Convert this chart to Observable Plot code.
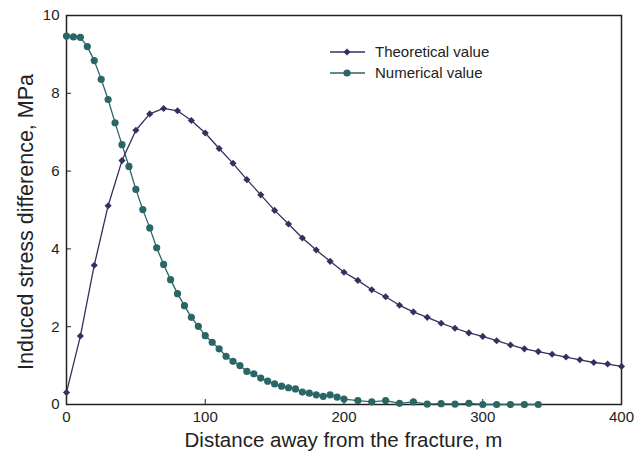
<!DOCTYPE html>
<html>
<head>
<meta charset="utf-8">
<script src="https://cdn.jsdelivr.net/npm/d3@7"></script>
<script src="https://cdn.jsdelivr.net/npm/@observablehq/plot@0.6"></script>
<style>
  html, body { margin: 0; padding: 0; background: #fff; }
  #chart { width: 644px; height: 458px; }
  svg { font-family: "Liberation Sans", Arial, sans-serif; }
</style>
</head>
<body>
<div id="chart"></div>
<script>
const theoX = [0,10,20,30,40,50,60,70,80,90,100,110,120,130,140,150,160,170,180,190,200,210,220,230,240,250,260,270,280,290,300,310,320,330,340,350,360,370,380,390,400];
const theoY = [0.31,1.76,3.58,5.11,6.27,7.05,7.47,7.61,7.55,7.30,6.98,6.58,6.20,5.78,5.39,4.99,4.64,4.28,3.97,3.68,3.40,3.19,2.95,2.77,2.55,2.38,2.24,2.09,1.96,1.84,1.75,1.64,1.53,1.43,1.36,1.29,1.22,1.15,1.08,1.04,0.98];
const numX = [0,5,10,15,20,25,30,35,40,45,50,55,60,65,70,75,80,85,90,95,100,105,110,115,120,125,130,135,140,145,150,155,160,165,170,175,180,185,190,195,200,210,220,230,240,250,260,270,280,290,300,310,320,330,340];
const numY = [9.47,9.45,9.44,9.20,8.84,8.36,7.84,7.24,6.68,6.12,5.53,5.01,4.54,4.03,3.60,3.21,2.85,2.54,2.24,2.01,1.77,1.60,1.43,1.24,1.11,1.00,0.85,0.79,0.68,0.60,0.53,0.47,0.43,0.40,0.32,0.29,0.25,0.21,0.25,0.19,0.14,0.10,0.07,0.10,0.03,0.07,0.01,0.02,0.01,0.03,0.0,0.0,0.0,0.0,0.0];
const xTicks = [0,100,200,300,400];
const yTicks = [0,2,4,6,8,10];
const seriesNames = ["Theoretical value", "Numerical value"];
const colors = ["#34305f", "#2b6666"];

const theo = theoX.map((x, i) => ({x, y: theoY[i]}));
const num = numX.map((x, i) => ({x, y: numY[i]}));

const plot = Plot.plot({
  width: 644,
  height: 458,
  marginLeft: 66,
  marginRight: 23,
  marginTop: 15,
  marginBottom: 54,
  style: {fontFamily: "Liberation Sans, Arial, sans-serif", fontSize: "15px", color: "#222", background: "#fff"},
  x: {domain: [0, 400]},
  y: {domain: [0, 10]},
  marks: [
    Plot.frame({stroke: "#222", strokeWidth: 1.5}),
    Plot.axisX({ticks: xTicks, tickSize: -5, tickPadding: 12, stroke: "#222", fontSize: 15, label: null}),
    Plot.axisY({ticks: yTicks, tickSize: -5, tickPadding: 12, stroke: "#222", fontSize: 15, label: null}),
    Plot.line(num, {x: "x", y: "y", stroke: colors[1], strokeWidth: 1.3}),
    Plot.dot(num, {x: "x", y: "y", r: 3.6, fill: colors[1], stroke: null}),
    Plot.line(theo, {x: "x", y: "y", stroke: colors[0], strokeWidth: 1.3}),
    Plot.dot(theo, {x: "x", y: "y", symbol: "diamond2", r: 3.2, fill: colors[0], stroke: null})
  ]
});

const svg = d3.select(plot);
// axis titles
svg.append("text")
  .attr("x", (66 + 621) / 2).attr("y", 447)
  .attr("text-anchor", "middle")
  .attr("font-size", 20.5).attr("fill", "#222")
  .text("Distance away from the fracture, m");
svg.append("text")
  .attr("transform", `translate(33,222) rotate(-90)`)
  .attr("text-anchor", "middle")
  .attr("font-size", 21.5).attr("fill", "#222")
  .text("Induced stress difference, MPa");

// legend
const lg = svg.append("g");
[0, 1].forEach(i => {
  const yy = 52 + i * 21;
  lg.append("line").attr("x1", 330).attr("x2", 365).attr("y1", yy).attr("y2", yy)
    .attr("stroke", colors[i]).attr("stroke-width", 1.3);
  if (i === 0) {
    lg.append("path").attr("d", d3.symbol(d3.symbolDiamond2, 3.2 * 3.2 * Math.PI)())
      .attr("transform", `translate(347,${yy})`).attr("fill", colors[i]);
  } else {
    lg.append("circle").attr("cx", 347).attr("cy", yy).attr("r", 3.6).attr("fill", colors[i]);
  }
  lg.append("text").attr("x", 375).attr("y", yy).attr("dy", "0.35em")
    .attr("text-anchor", "start")
    .attr("font-size", 15).attr("fill", "#222").text(seriesNames[i]);
});

document.getElementById("chart").appendChild(plot);
</script>
</body>
</html>
